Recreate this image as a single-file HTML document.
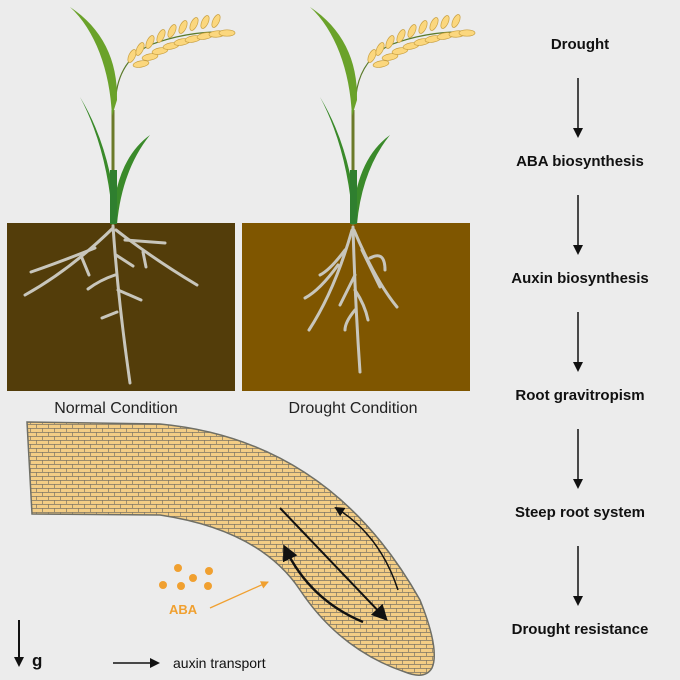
<!DOCTYPE html>
<html><head><style>
html,body{margin:0;padding:0;background:#ececec;}
svg{display:block;}
text{font-family:"Liberation Sans",sans-serif;}
</style></head><body>
<svg width="680" height="680" viewBox="0 0 680 680" xmlns="http://www.w3.org/2000/svg">
<defs>
<pattern id="cells" width="12" height="8" patternUnits="userSpaceOnUse">
<rect width="12" height="8" fill="#f3cd85"/>
<path d="M0,0.5H12M0.5,0V4M6.5,4V8M0,4.5H12" stroke="#7d7565" stroke-width="0.7" fill="none"/>
</pattern>
<marker id="ah" markerWidth="10" markerHeight="10" refX="8" refY="5" orient="auto" markerUnits="userSpaceOnUse"><path d="M0,0L10,5L0,10Z" fill="#111"/></marker>
<marker id="ahb" markerWidth="16" markerHeight="16" refX="12" refY="8" orient="auto" markerUnits="userSpaceOnUse"><path d="M0,0L16,8L0,16Z" fill="#111"/></marker>
<marker id="aho" markerWidth="8" markerHeight="8" refX="7" refY="4" orient="auto" markerUnits="userSpaceOnUse"><path d="M0,0L8,4L0,8Z" fill="#f0a030"/></marker>
<g id="plant">
<path d="M116,95 Q120,60 150,45 Q190,30 232,32" stroke="#5a7a2a" stroke-width="1.2" fill="none"/>
<g fill="#fbd77e" stroke="#c9a040" stroke-width="0.7">
<ellipse cx="132" cy="56" rx="7" ry="3.2" transform="rotate(-65 132 56)"/>
<ellipse cx="141" cy="64" rx="8" ry="3.2" transform="rotate(-10 141 64)"/>
<ellipse cx="140" cy="49" rx="7" ry="3.2" transform="rotate(-65 140 49)"/>
<ellipse cx="150" cy="57" rx="8" ry="3.2" transform="rotate(-10 150 57)"/>
<ellipse cx="150" cy="42" rx="7" ry="3.2" transform="rotate(-65 150 42)"/>
<ellipse cx="160" cy="51" rx="8" ry="3.2" transform="rotate(-10 160 51)"/>
<ellipse cx="161" cy="36" rx="7" ry="3.2" transform="rotate(-65 161 36)"/>
<ellipse cx="171" cy="46" rx="8" ry="3.2" transform="rotate(-10 171 46)"/>
<ellipse cx="172" cy="31" rx="7" ry="3.2" transform="rotate(-65 172 31)"/>
<ellipse cx="182" cy="42" rx="8" ry="3.2" transform="rotate(-10 182 42)"/>
<ellipse cx="183" cy="27" rx="7" ry="3.2" transform="rotate(-65 183 27)"/>
<ellipse cx="193" cy="39" rx="8" ry="3.2" transform="rotate(-10 193 39)"/>
<ellipse cx="194" cy="24" rx="7" ry="3.2" transform="rotate(-65 194 24)"/>
<ellipse cx="205" cy="36" rx="8" ry="3.2" transform="rotate(-10 205 36)"/>
<ellipse cx="205" cy="22" rx="7" ry="3.2" transform="rotate(-65 205 22)"/>
<ellipse cx="217" cy="34" rx="8" ry="3.2" transform="rotate(-5 217 34)"/>
<ellipse cx="216" cy="21" rx="7" ry="3.2" transform="rotate(-65 216 21)"/>
<ellipse cx="227" cy="33" rx="8" ry="3.2" transform="rotate(0 227 33)"/>
</g>
<rect x="111.5" y="110" width="3" height="115" fill="#6b7a2a"/>
<path d="M112,116 C110,70 95,30 70,7 C102,28 118,60 117,100 Z" fill="#6aa22a"/>
<path d="M113,224 Q108,150 80,97 Q112,150 117,224Z" fill="#3a8a2a"/>
<path d="M112,224 Q115,160 150,135 Q122,170 117,224Z" fill="#3a8a2a"/>
<path d="M110,224 L110,170 L117,170 L117,224Z" fill="#2f7f2f"/>
</g>
</defs>
<rect width="680" height="680" fill="#ececec"/>
<rect x="7" y="223" width="228" height="168" fill="#533d0a"/>
<rect x="242" y="223" width="228" height="168" fill="#7f5600"/>
<use href="#plant"/>
<use href="#plant" transform="translate(240,0)"/>
<g stroke="#c8c6bc" stroke-width="3" fill="none" stroke-linecap="round">
<path d="M113,226 Q118,300 130,383"/>
<path d="M113,228 Q70,270 25,295"/>
<path d="M95,248 Q60,262 31,272"/>
<path d="M82,258 L89,275"/>
<path d="M116,230 Q155,260 197,285"/>
<path d="M125,240 L165,243"/>
<path d="M143,252 L146,267"/>
<path d="M116,255 L133,266"/>
<path d="M115,275 Q100,280 88,289"/>
<path d="M118,290 L141,300"/>
<path d="M117,312 L102,318"/>
</g>
<g stroke="#c8c6bc" stroke-width="3" fill="none" stroke-linecap="round">
<path d="M353,227 Q355,300 360,372"/>
<path d="M352,230 Q335,290 309,330"/>
<path d="M345,250 Q330,270 320,275"/>
<path d="M338,265 Q320,290 305,298"/>
<path d="M354,230 Q375,280 397,307"/>
<path d="M362,250 L380,287"/>
<path d="M370,258 Q385,250 385,270"/>
<path d="M355,275 Q345,295 340,305"/>
<path d="M355,290 Q365,305 368,320"/>
<path d="M355,310 Q345,322 345,330"/>
</g>
<text x="116" y="413" font-size="16" text-anchor="middle" fill="#222">Normal Condition</text>
<text x="353" y="413" font-size="16" text-anchor="middle" fill="#222">Drought Condition</text>
<path d="M27,422 L160,424 Q330,440 420,600 Q440,650 432,668 Q425,680 405,672 Q340,650 300,590 Q260,530 160,515 L32,514 Z" fill="url(#cells)" stroke="#6f6f66" stroke-width="1.5"/>
<g stroke="#111" fill="none">
<path d="M280,508 Q320,550 385,618" stroke-width="2" marker-end="url(#ahb)"/>
<path d="M363,622 Q310,600 285,548" stroke-width="2.5" marker-end="url(#ahb)"/>
<path d="M398,590 Q380,535 336,508" stroke-width="1.5" marker-end="url(#ah)"/>
</g>
<g fill="#f0a030">
<circle cx="178" cy="568" r="4"/><circle cx="209" cy="571" r="4"/><circle cx="193" cy="578" r="4"/>
<circle cx="163" cy="585" r="4"/><circle cx="181" cy="586" r="4"/><circle cx="208" cy="586" r="4"/>
</g>
<text x="169" y="614" font-size="13" font-weight="bold" fill="#f0a030">ABA</text>
<path d="M210,608 L268,582" stroke="#f0a030" stroke-width="1.3" marker-end="url(#aho)"/>
<path d="M19,620 L19,665" stroke="#111" stroke-width="2" marker-end="url(#ah)"/>
<text x="32" y="666" font-size="17" font-weight="bold" fill="#111">g</text>
<path d="M113,663 L158,663" stroke="#111" stroke-width="1.5" marker-end="url(#ah)"/>
<text x="173" y="668" font-size="14" fill="#111">auxin transport</text>
<g font-size="15" font-weight="bold" fill="#111" text-anchor="middle">
<text x="580" y="49">Drought</text>
<text x="580" y="166">ABA biosynthesis</text>
<text x="580" y="283">Auxin biosynthesis</text>
<text x="580" y="400">Root gravitropism</text>
<text x="580" y="517">Steep root system</text>
<text x="580" y="634">Drought resistance</text>
</g>
<g stroke="#111" stroke-width="1.5">
<path d="M578,78 L578,136" marker-end="url(#ah)"/>
<path d="M578,195 L578,253" marker-end="url(#ah)"/>
<path d="M578,312 L578,370" marker-end="url(#ah)"/>
<path d="M578,429 L578,487" marker-end="url(#ah)"/>
<path d="M578,546 L578,604" marker-end="url(#ah)"/>
</g>
</svg>
</body></html>
